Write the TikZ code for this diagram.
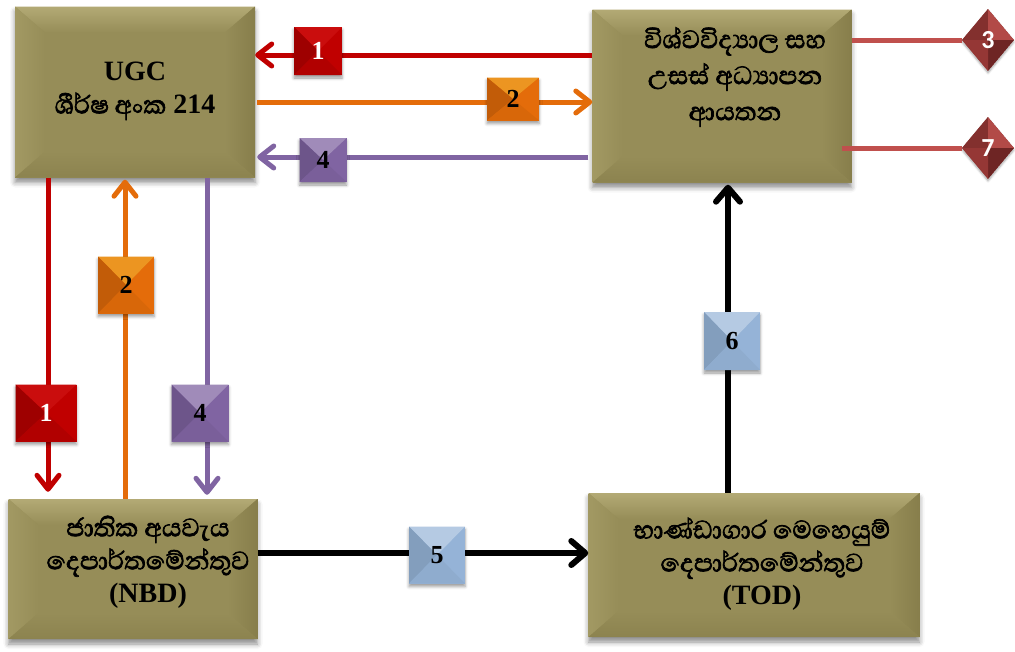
\documentclass[tikz,border=0pt]{standalone}
\usepackage{fontspec}
\setmainfont{Liberation Serif}
\newfontfamily\sinhfont[Script=Sinhala, Scale=1.15, AutoFakeBold=2.2]{Abhaya Libre}
\newfontfamily\carlfont{Carlito}
\usetikzlibrary{arrows.meta,shapes.geometric,shadows.blur}
\definecolor{olv}{HTML}{968D58}
\definecolor{olvT}{HTML}{B3AA75}
\definecolor{olvL}{HTML}{A29963}
\definecolor{olvR}{HTML}{877E4B}
\definecolor{olvB}{HTML}{8C834F}
\definecolor{cred}{HTML}{C00000}
\definecolor{corange}{HTML}{E46C0A}
\definecolor{cpurple}{HTML}{8064A2}
\definecolor{cpink}{HTML}{C0504D}
\definecolor{cblue}{HTML}{95B3D7}
\definecolor{dmd}{HTML}{953735}
\definecolor{dmdL}{HTML}{B24A47}
\definecolor{dmdD}{HTML}{6E2524}
\definecolor{dmdM}{HTML}{83302E}
\tikzset{
  olivebox/.style={rectangle, inner sep=0pt, fill=olv,
    blur shadow={shadow xshift=0pt, shadow yshift=-5pt, shadow blur radius=5pt, shadow opacity=45},
    path picture={
      \coordinate (bA) at (path picture bounding box.north west);
      \coordinate (bB) at (path picture bounding box.north east);
      \coordinate (bC) at (path picture bounding box.south east);
      \coordinate (bD) at (path picture bounding box.south west);
      \shade[top color=olvT, bottom color=olv] (bA) -- (bB) -- ([shift={(-30,26)}]bB) -- ([shift={(30,26)}]bA) -- cycle;
      \shade[left color=olvL, right color=olv] (bA) -- ([shift={(30,26)}]bA) -- ([shift={(30,-26)}]bD) -- (bD) -- cycle;
      \shade[right color=olvR, left color=olv] (bB) -- ([shift={(-30,26)}]bB) -- ([shift={(-30,-26)}]bC) -- (bC) -- cycle;
      \shade[bottom color=olvB, top color=olv] (bD) -- ([shift={(30,-26)}]bD) -- ([shift={(-30,-26)}]bC) -- (bC) -- cycle;
    }},
  numbox/.style n args={4}{rectangle, inner sep=0pt, fill=#1,
    blur shadow={shadow xshift=0pt, shadow yshift=-3pt, shadow blur radius=3pt, shadow opacity=40},
    font=\fontsize{26}{26}\selectfont\bfseries,
    path picture={
      \coordinate (nA) at (path picture bounding box.north west);
      \coordinate (nB) at (path picture bounding box.north east);
      \coordinate (nC) at (path picture bounding box.south east);
      \coordinate (nD) at (path picture bounding box.south west);
      \coordinate (nM) at (path picture bounding box.center);
      \fill[#2] (nA) -- (nB) -- (nM) -- cycle;
      \fill[#3] (nA) -- (nD) -- (nM) -- cycle;
      \fill[#4] (nD) -- (nC) -- (nM) -- cycle;
    }},
  redbox/.style={numbox={cred}{red!78!black!95!white}{red!62!black}{cred!92!black}, text=white},
  orangebox/.style={numbox={corange}{corange!80!yellow!90!white}{corange!85!black}{corange!95!black}, text=black},
  purplebox/.style={numbox={cpurple}{cpurple!75!white}{cpurple!85!black}{cpurple!95!black}, text=black},
  bluebox/.style={numbox={cblue}{cblue!70!white}{cblue!88!black}{cblue!96!black}, text=black},
  dia/.style={diamond, inner sep=0pt, minimum width=52pt, minimum height=62pt, fill=dmd,
    text=white, font=\carlfont\fontsize{26}{26}\selectfont\bfseries,
    blur shadow={shadow xshift=0pt, shadow yshift=-2pt, shadow blur radius=2pt, shadow opacity=35},
    path picture={
      \coordinate (dN) at (path picture bounding box.north);
      \coordinate (dE) at (path picture bounding box.east);
      \coordinate (dS) at (path picture bounding box.south);
      \coordinate (dW) at (path picture bounding box.west);
      \coordinate (dM) at (path picture bounding box.center);
      \fill[dmdM] (dM) -- (dN) -- (dW) -- cycle;
      \fill[dmdL] (dM) -- (dN) -- (dE) -- cycle;
      \fill[dmdD] (dM) -- (dS) -- (dE) -- cycle;
      \fill[dmd] (dM) -- (dS) -- (dW) -- cycle;
    }},
  txt/.style={align=center, font=\fontsize{28}{33}\selectfont\bfseries, text=black},
  arr/.style={line width=5pt, -{Straight Barb[round, length=14pt, width=22pt]}},
  blk/.style={line width=6pt, black, -{Straight Barb[round, length=14pt, width=24pt]}},
  pinkline/.style={line width=5pt, cpink}
}
\begin{document}
\begin{tikzpicture}[x=1pt,y=-1pt]
\useasboundingbox (0,0) rectangle (1015,651);
% main boxes
\node[olivebox, minimum width=240pt, minimum height=171pt] (ugc) at (135,92) {};
\node[olivebox, minimum width=259pt, minimum height=173pt] (uni) at (722,96) {};
\node[olivebox, minimum width=249pt, minimum height=140pt] (nbd) at (133,569) {};
\node[olivebox, minimum width=331pt, minimum height=144pt] (tod) at (754,565) {};
% texts
\node[txt] (ugct) at (135,91) {UGC\\{\sinhfont ශීර්ෂ අංක} 214};
\node[txt, font=\fontsize{28}{36}\selectfont\bfseries] (unit) at (735,77) {{\sinhfont විශ්වවිද්^^^^200dයාල සහ}\\{\sinhfont උසස් අධ්^^^^200dයාපන}\\{\sinhfont ආයතන}};
\node[txt] (nbdt) at (148,562) {{\sinhfont ජාතික අයවැය}\\{\sinhfont දෙපාර්තමේන්තුව}\\(NBD)};
\node[txt] (todt) at (762,564) {{\sinhfont භාණ්ඩාගාර මෙහෙයුම්}\\{\sinhfont දෙපාර්තමේන්තුව}\\(TOD)};
% helper coordinates
\coordinate (ya) at (0,55);
\coordinate (yb) at (0,102);
\coordinate (yc) at (0,157);
\coordinate (xa) at (48,0);
\coordinate (xb) at (125,0);
\coordinate (xc) at (207,0);
\coordinate (xd) at (728,0);
\coordinate (ye) at (0,553);
% connectors
\draw[arr, cred] (uni.west |- ya) -- (ugc.east |- ya);
\draw[arr, corange] ([xshift=2pt]ugc.east |- yb) -- (uni.west |- yb);
\draw[arr, cpurple] ([xshift=-4pt]uni.west |- yc) -- ([xshift=2pt]ugc.east |- yc);
\draw[arr, cred] (ugc.south -| xa) -- ([yshift=7pt]nbd.north -| xa);
\draw[arr, corange] (nbd.north -| xb) -- ([yshift=-2pt]ugc.south -| xb);
\draw[arr, cpurple] (ugc.south -| xc) -- ([yshift=4pt]nbd.north -| xc);
\draw[blk] (nbd.east |- ye) -- (tod.west |- ye);
\draw[blk] (tod.north -| xd) -- ([yshift=-2pt]uni.south -| xd);
% diamonds
\node[dia] (d3) at (988,40) {3};
\node[dia] (d7) at (988,148) {7};
\draw[pinkline] (uni.east |- d3) -- (d3.west);
\draw[pinkline] ([xshift=-10pt]uni.east |- d7) -- (d7.west);
% number labels
\node[redbox, minimum width=48pt, minimum height=48pt] (n1a) at (318,51) {1};
\node[orangebox, minimum width=52pt, minimum height=43pt] (n2a) at (513,99) {2};
\node[purplebox, minimum width=47pt, minimum height=44pt] (n4a) at (323,160) {4};
\node[redbox, minimum width=61pt, minimum height=57pt] (n1b) at (46,413) {1};
\node[orangebox, minimum width=56pt, minimum height=57pt] (n2b) at (126,285) {2};
\node[purplebox, minimum width=57pt, minimum height=57pt] (n4b) at (200,413) {4};
\node[bluebox, minimum width=56pt, minimum height=57pt] (n5) at (437,555) {5};
\node[bluebox, minimum width=56pt, minimum height=58pt] (n6) at (732,341) {6};
\end{tikzpicture}
\end{document}
